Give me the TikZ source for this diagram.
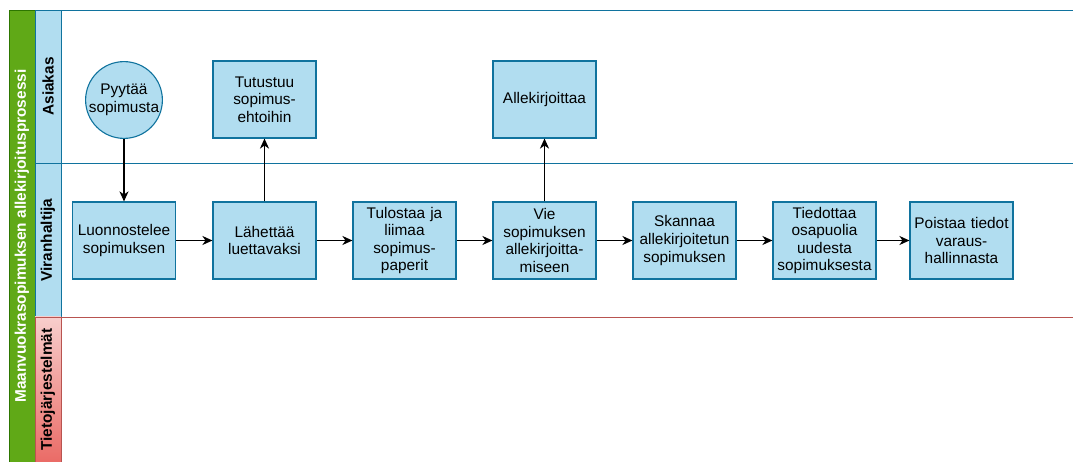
\documentclass[tikz,border=0pt]{standalone}
\usepackage{fontspec}
\setmainfont{Liberation Sans}
\usetikzlibrary{arrows.meta}
\definecolor{taskfill}{HTML}{B1DDF0}
\definecolor{taskline}{HTML}{10739E}
\definecolor{poolfill}{HTML}{60A917}
\definecolor{poolline}{HTML}{2D7600}
\definecolor{sysfilltop}{HTML}{F8CECC}
\definecolor{sysfillbot}{HTML}{EA6B66}
\definecolor{sysline}{HTML}{B85450}
\begin{document}
\begin{tikzpicture}[x=1pt,y=-1pt,
  font=\fontsize{15.4}{17.6}\selectfont,
  task/.style={draw=taskline, fill=taskfill, line width=1.1pt,
    minimum width=103pt, minimum height=77pt, text width=100pt,
    align=center, inner sep=1pt},
  startev/.style={draw=taskline, fill=taskfill, line width=1.1pt, circle,
    minimum size=76pt, inner sep=0pt, align=center},
  lanelabel/.style={rotate=90, font=\fontsize{15.4}{17.6}\selectfont\bfseries},
  flow/.style={-{Stealth[length=10pt,width=9pt,inset=3pt]}, line width=1.4pt, black}]

\useasboundingbox (0,0) rectangle (1074,462);
\fill[white] (0,0) rectangle (1074,462);

% pool header
\filldraw[fill=poolfill, draw=poolline, line width=0.8pt] (9,10) rectangle (35,462);
\node[lanelabel, text=white] (pool) at (22,236) {Maanvuokrasopimuksen allekirjoitusprosessi};

% lane headers
\filldraw[fill=taskfill, draw=taskline, line width=0.8pt] (35,10) rectangle (61,163);
\filldraw[fill=taskfill, draw=taskline, line width=0.8pt] (35,163) rectangle (61,317);
\shade[top color=sysfilltop, bottom color=sysfillbot] (35,317) rectangle (61,462);
\draw[sysline, line width=0.8pt] (35,317) rectangle (61,462);
\node[lanelabel] (laneA) at (48,86.5) {Asiakas};
\node[lanelabel] (laneV) at (48,240) {Viranhaltija};
\node[lanelabel] (laneT) at (48,389.5) {Tietojärjestelmät};

% lane separators
\draw[taskline, line width=0.8pt] (61,10) -- (1073,10);
\draw[taskline, line width=0.8pt] (61,163) -- (1073,163);
\draw[sysline, line width=0.8pt] (61,317) -- (1073,317);

% activities
\node[startev] (req) at (124,100) {Pyytää\\sopimusta};
\node[task] (tut) at (264.5,99.5) {Tutustuu\\sopimus-\\ehtoihin};
\node[task] (all) at (544.5,99.5) {Allekirjoittaa};

\node[task] (luo) at (124,240.5) {Luonnostelee\\sopimuksen};
\node[task] (lah) at (264.5,240.5) {Lähettää\\luettavaksi};
\node[task] (tul) at (404.5,240.5) {Tulostaa ja\\liimaa\\sopimus-\\paperit};
\node[task] (vie) at (544.5,240.5) {Vie\\sopimuksen\\allekirjoitta-\\miseen};
\node[task] (ska) at (684.5,240.5) {Skannaa\\allekirjoitetun\\sopimuksen};
\node[task] (tie) at (824.5,240.5) {Tiedottaa\\osapuolia\\uudesta\\sopimuksesta};
\node[task] (poi) at (961.5,240.5) {Poistaa tiedot\\varaus-\\hallinnasta};

% sequence flows
\draw[flow] (req) -- (luo);
\draw[flow] (luo) -- (lah);
\draw[flow] (lah) -- (tut);
\draw[flow] (lah) -- (tul);
\draw[flow] (tul) -- (vie);
\draw[flow] (vie) -- (all);
\draw[flow] (vie) -- (ska);
\draw[flow] (ska) -- (tie);
\draw[flow] (tie) -- (poi);
\end{tikzpicture}
\end{document}
